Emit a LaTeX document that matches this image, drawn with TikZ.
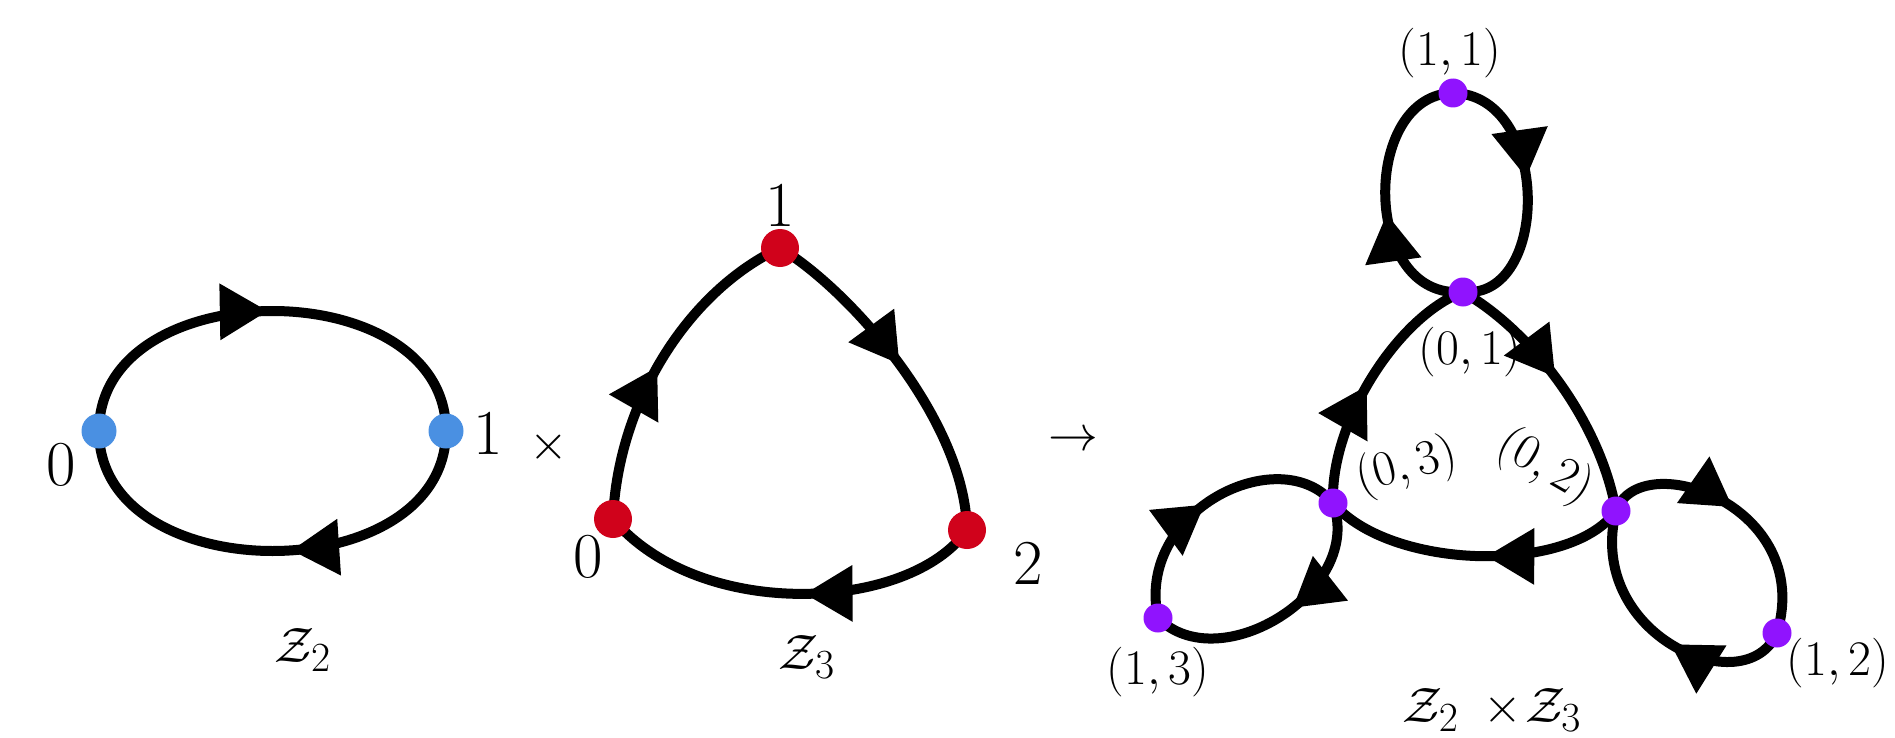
\documentclass[tikz,border=0pt]{standalone}
\usepackage{amsmath}
\usetikzlibrary{arrows.meta,decorations.markings,backgrounds}
\definecolor{cblue}{HTML}{4A90E2}
\definecolor{cred}{HTML}{D0021B}
\definecolor{cpurple}{HTML}{9013FE}
\tikzset{
 conn/.style={line width=5pt},
 mk/.style={postaction={decorate,decoration={markings,mark=at position #1 with {\arrow{Triangle[length=24pt,width=27pt]}}}}},
 bdot/.style={circle,fill=cblue,inner sep=0pt,minimum size=17.5pt},
 rdot/.style={circle,fill=cred,inner sep=0pt,minimum size=19pt},
 pdot/.style={circle,fill=cpurple,inner sep=0pt,minimum size=14.5pt},
 biglbl/.style={font=\fontsize{32}{38}\selectfont,inner sep=0pt},
 smlbl/.style={font=\fontsize{26}{31}\selectfont,inner sep=0pt},
}
\begin{document}
\begin{tikzpicture}[x=0.5pt,y=0.5pt]
\useasboundingbox (0,0) rectangle (1895,-738);
% ---------- Z2 ----------
\node[bdot] (a0) at (99,-431) {};
\node[bdot] (a1) at (446,-431) {};
\node[biglbl] (la0) at (61,-465) {0};
\node[biglbl] (la1) at (488,-433) {1};
\node[biglbl] (tm) at (549,-447) {$\times$};
\node[biglbl] (z2) at (303,-650) {$\mathcal{Z}_2$};
% ---------- Z3 ----------
\node[rdot] (b0) at (613,-519) {};
\node[rdot] (b1) at (780,-248) {};
\node[rdot] (b2) at (967,-530) {};
\node[biglbl] (lb1) at (780,-205) {1};
\node[biglbl] (lb0) at (588,-557) {0};
\node[biglbl] (lb2) at (1028,-563) {2};
\node[biglbl] (z3) at (807,-657) {$\mathcal{Z}_3$};
\node[font=\fontsize{34}{40}\selectfont,inner sep=0pt] (arr) at (1073,-441) {$\to$};
% ---------- product ----------
\node[pdot] (p11) at (1453,-93) {};
\node[pdot] (p01) at (1463,-292) {};
\node[pdot] (p03) at (1333,-503) {};
\node[pdot] (p02) at (1616,-511) {};
\node[pdot] (p13) at (1158,-618) {};
\node[pdot] (p12) at (1777,-633) {};
\node[smlbl] (l11) at (1450,-53) {$(1,1)$};
\node[smlbl] (l01) at (1470,-352) {$(0,1)$};
\node[smlbl,rotate=15] (l03) at (1407,-467) {$(0,3)$};
\node[smlbl,rotate=-30] (l02) at (1545,-467) {$(0,2)$};
\node[smlbl] (l13) at (1158,-672) {$(1,3)$};
\node[smlbl] (l12) at (1838,-663) {$(1,2)$};
\node[font=\fontsize{28}{34}\selectfont,inner sep=0pt] (zz) at (1492,-710) {$\mathcal{Z}_2\;\times\!\mathcal{Z}_3$};
\begin{pgfonlayer}{background}
% Z2
\draw[conn,mk=0.49] (a0.center) .. controls (99,-271) and (446,-271) .. (a1.center);
\draw[conn,mk=0.46] (a1.center) .. controls (446,-591) and (99,-591) .. (a0.center);
% Z3
\draw[conn,mk=0.48] (b0.center) .. controls (618,-400) and (690,-290) .. (b1.center);
\draw[conn,mk=0.48] (b1.center) .. controls (850,-290) and (965,-420) .. (b2.center);
\draw[conn,mk=0.46] (b2.center) .. controls (910,-612) and (700,-622) .. (b0.center);
% product: top loop
\draw[conn,mk=0.44] (p01.center) .. controls (1361,-300) and (1361,-95) .. (p11.center);
\draw[conn,mk=0.45] (p11.center) .. controls (1551,-95) and (1551,-300) .. (p01.center);
% central triangle
\draw[conn,mk=0.475] (p03.center) .. controls (1330,-420) and (1400,-315) .. (p01.center);
\draw[conn,mk=0.46] (p01.center) .. controls (1530,-330) and (1600,-420) .. (p02.center);
\draw[conn,mk=0.46] (p02.center) .. controls (1570,-575) and (1390,-570) .. (p03.center);
% left loop
\draw[conn,mk=0.48] (p13.center) .. controls (1135,-510) and (1280,-440) .. (p03.center);
\draw[conn,mk=0.45] (p03.center) .. controls (1365,-590) and (1220,-680) .. (p13.center);
% right loop
\draw[conn,mk=0.48] (p02.center) .. controls (1640,-445) and (1815,-505) .. (p12.center);
\draw[conn,mk=0.44] (p12.center) .. controls (1745,-705) and (1585,-635) .. (p02.center);
\end{pgfonlayer}
\end{tikzpicture}
\end{document}
